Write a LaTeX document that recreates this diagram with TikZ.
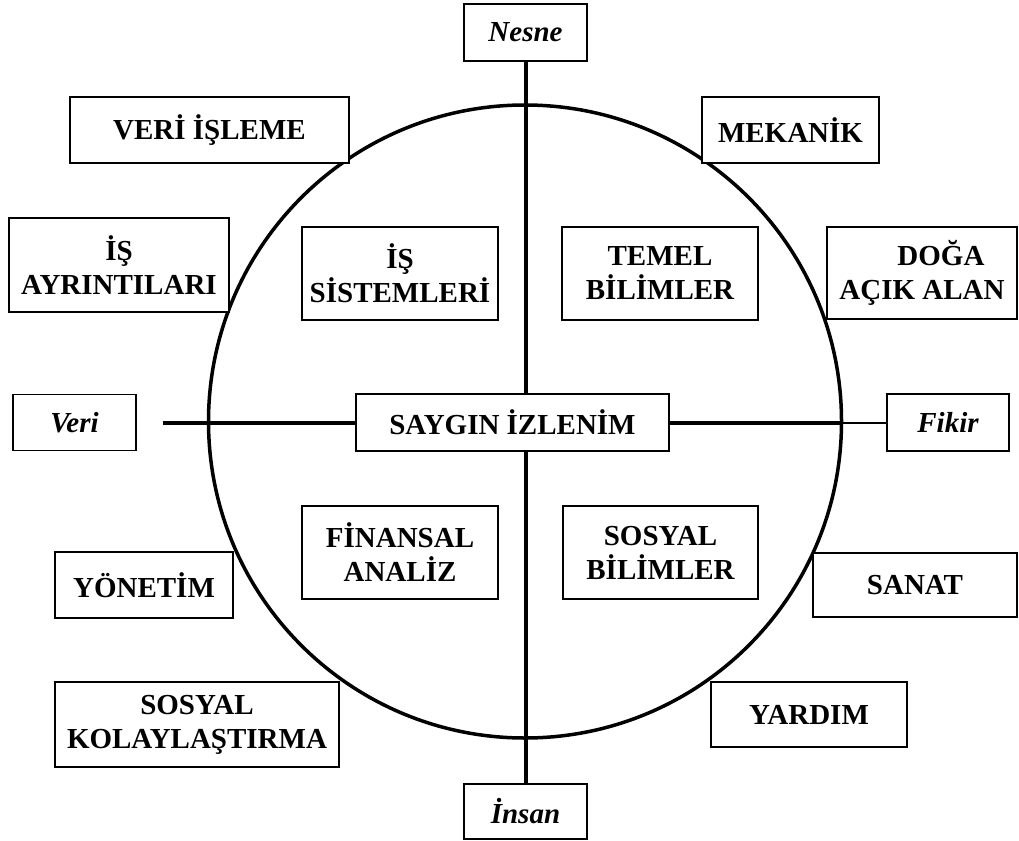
\documentclass[tikz,border=0pt]{standalone}
\usepackage{fontspec}
\setmainfont{Liberation Serif}
\usetikzlibrary{backgrounds}
\begin{document}
\begin{tikzpicture}[x=1pt,y=-1pt,
  box/.style={draw=black, line width=1.4pt, fill=white, rectangle, inner sep=0pt, align=center,
    font=\fontsize{29}{34}\selectfont\bfseries},
  ibox/.style={box, font=\fontsize{29}{34}\selectfont\bfseries\itshape},
  axis/.style={line width=4pt},
  thinaxis/.style={line width=2pt},
  ring/.style={line width=3.5pt}]
\useasboundingbox (0,0) rectangle (1019,840);
% axis end boxes
\node[ibox, minimum width=123pt, minimum height=57pt] (nesne) at (525.5,32.5) {Nesne};
\node[ibox, minimum width=123pt, minimum height=55pt] (insan) at (525.5,811.5) {İnsan};
\node[ibox, minimum width=123pt, minimum height=56pt] (veri) at (74.5,422.5) {Veri};
\node[ibox, minimum width=122pt, minimum height=57pt] (fikir) at (948,422.5) {Fikir};
% centre
\node[box, minimum width=313pt, minimum height=57pt] (saygin) at (512.5,422.5) {SAYGIN İZLENİM};
% inner boxes
\node[box, minimum width=196pt, minimum height=93pt] (issis) at (400,273.5) {İŞ\\SİSTEMLERİ};
\node[box, minimum width=196pt, minimum height=93pt] (temel) at (660,273.5) {TEMEL\\BİLİMLER};
\node[box, minimum width=196pt, minimum height=93pt] (finans) at (400,552.5) {FİNANSAL\\ANALİZ};
\node[box, minimum width=195pt, minimum height=93pt] (sosbil) at (660.5,552.5) {SOSYAL\\BİLİMLER};
% outer boxes
\node[box, minimum width=279pt, minimum height=66pt] (veriisl) at (209.5,130) {VERİ İŞLEME};
\node[box, minimum width=177pt, minimum height=66pt] (mekanik) at (790.5,130) {MEKANİK};
\node[box, minimum width=220pt, minimum height=94pt] (isayr) at (119,265) {İŞ\\AYRINTILARI};
\node[box, minimum width=190pt, minimum height=92pt, align=left] (doga) at (922,273) {\hspace*{58pt}DOĞA\\AÇIK ALAN};
\node[box, minimum width=178pt, minimum height=66pt] (yonetim) at (144,585) {YÖNETİM};
\node[box, minimum width=204pt, minimum height=64pt] (sanat) at (915,585) {SANAT};
\node[box, minimum width=284pt, minimum height=85pt] (soskol) at (197,724.5) {SOSYAL\\KOLAYLAŞTIRMA};
\node[box, minimum width=196pt, minimum height=65pt] (yardim) at (809,714.5) {YARDIM};
% free ends of the horizontal axis
\coordinate (vleft) at (163,422.5);
\coordinate (cright) at (841.5,422.5);
\begin{scope}[on background layer]
  \draw[ring] (525,421.5) circle[radius=316.5pt];
  \draw[axis] (nesne.south) -- (insan.north);
  \draw[axis] (vleft) -- (saygin.west);
  \draw[axis] (saygin.east) -- (cright);
  \draw[thinaxis] (cright) -- (fikir.west);
\end{scope}
\end{tikzpicture}
\end{document}
